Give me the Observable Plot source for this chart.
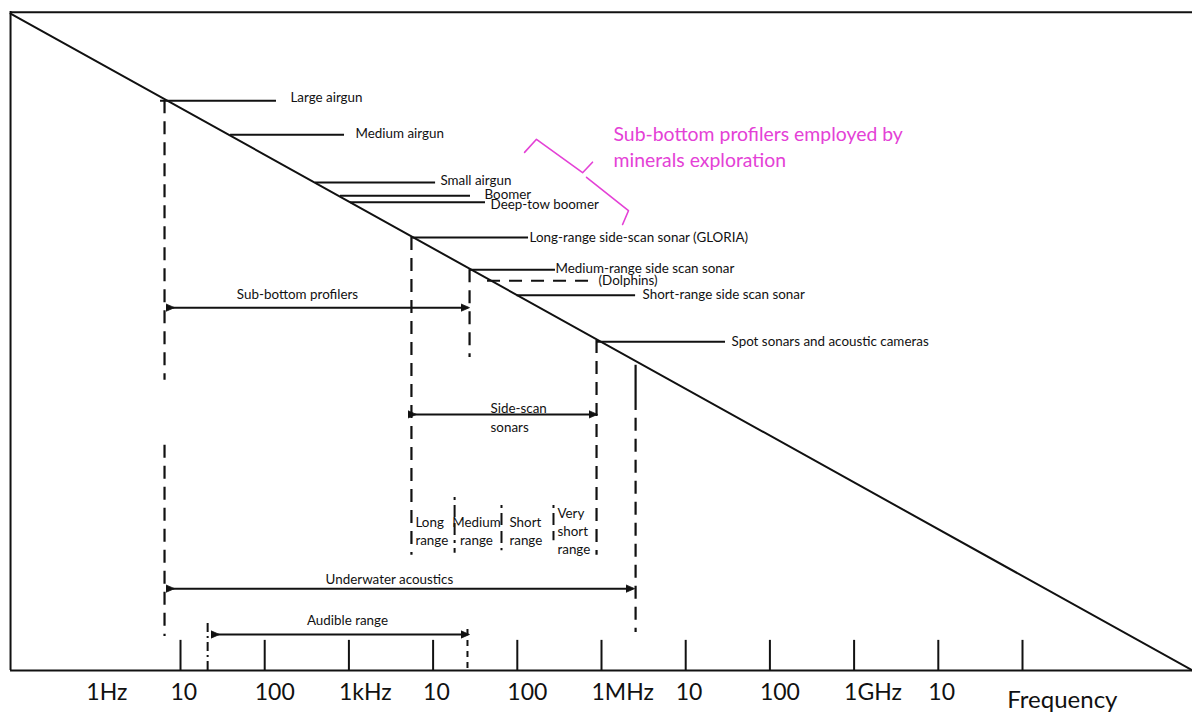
<!DOCTYPE html>
<html><head><meta charset="utf-8">
<script src="https://cdn.jsdelivr.net/npm/d3@7"></script>
<script src="https://cdn.jsdelivr.net/npm/@observablehq/plot@0.6"></script>
<style>body{margin:0;background:#fff;} #chart svg{display:block}</style>
</head><body><div id="chart"></div>
<script>
// ---- frequency axis (Hz, log) ----
const tickFreqs = [10, 100, 1e3, 1e4, 1e5, 1e6, 1e7, 1e8, 1e9, 1e10, 1e11];
const labelFreqs = [1, 10, 100, 1e3, 1e4, 1e5, 1e6, 1e7, 1e8, 1e9, 1e10];
const tickLabels = ["1Hz", "10", "100", "1kHz", "10", "100", "1MHz", "10", "100", "1GHz", "10"];
const axisTitle = "Frequency";
const axisTitleFreq = 6.6e10;
const freqMin = 0.0728, freqMax = 1.0447e13;

// ---- diagonal (resolution / penetration trade-off), arbitrary level 0-100 ----
const diagFreq = [0.0958, 1.0447e13];
const diagLevel = [100.3, 0];

// ---- systems: leader lines from the diagonal ----
const systemNames = ["Large airgun", "Medium airgun", "Small airgun", "Boomer", "Deep-tow boomer",
  "Long-range side-scan sonar (GLORIA)", "Medium-range side scan sonar", "Short-range side scan sonar",
  "Spot sonars and acoustic cameras"];
const systemFrom = [5.79, 39.3, 401, 794, 1045, 5530, 27100, 99300, 873000];
const systemTo = [138, 887, 10700, 27800, 41900, 136000, 284000, 2540000, 29700000];
const systemLevel = [87.0, 81.8, 74.5, 72.5, 71.5, 66.1, 61.2, 57.3, 50.2];
const systemLabelFreq = [202, 1197, 12200, 40800, 48100, 140000, 284000, 3070000, 35000000];
const systemLabelLevel = [87.5, 82.0, 74.8, 72.7, 71.1, 66.1, 61.4, 57.3, 50.2];

const dolphinName = "(Dolphins)";
const dolphinFrom = 44300, dolphinTo = 740000, dolphinLevel = 59.5;
const dolphinLabelFreq = 921000, dolphinLabelLevel = 59.5;

// ---- vertical boundary lines ----
const dashFreq = [6.46, 6.46, 5530, 27100, 873000, 2540000];
const dashTop = [87.0, 34.4, 66.1, 61.2, 50.4, 38.5];
const dashBottom = [44.3, 5.2, 17.6, 47.8, 17.6, 5.8];
const solidFreq = [2540000];
const solidTop = [46.6];
const solidBottom = [39.7];
const audibleLowFreq = 21, audibleLowTop = 7.6;
const audibleHighFreq = 25600, audibleHighTop = 6.4;

// ---- ranges (double arrows) ----
const rangeNames = ["Sub-bottom profilers", "Side-scan\nsonars", "Underwater acoustics", "Audible range"];
const rangeFrom = [8.04, 6010, 8.04, 27.5];
const rangeTo = [25600, 849000, 2340000, 25600];
const rangeLevel = [55.4, 39.1, 12.5, 5.5];
const rangeLabelFreq = [245, 48100, 3030, 962];
const rangeLabelLevel = [57.7, 38.8, 14.2, 7.9];
const rangeLabelAnchor = ["middle", "start", "middle", "middle"];

// ---- side-scan sub-ranges ----
const subNames = ["Long\nrange", "Medium\nrange", "Short\nrange", "Very\nshort\nrange"];
const subLabelFreq = [6170, 32700, 80700, 300000];
const subAnchor = ["start", "middle", "start", "start"];
const subLevel = 21.4;
const sepFreq = [18000, 64900, 269000];
const sepTop = [26.4, 25.2, 25.2];
const sepBottom = [17.9, 18.3, 19.8];

// ---- magenta note ----
const noteText = "Sub-bottom profilers employed by\nminerals exploration";
const noteFreq = 1390000, noteLevel = 80.1;
const braceFreq = [122000, 169000, 596000, 782000, 664000, 2090000, 1780000];
const braceLevel = [79.1, 81.1, 76.0, 77.6, 75.3, 70.2, 68.1];
const braceSeg = [0, 0, 0, 0, 1, 1, 1];

// ---- build tables ----
const ink = "#111";
const magenta = "#e441d6";
const font = "Lato, 'Open Sans', sans-serif";
const fs = 13.4;
const ticks = tickFreqs.map(f => ({f}));
const tlabels = labelFreqs.map((f, i) => ({f, t: tickLabels[i]}));
const diag = diagFreq.map((f, i) => ({f, y: diagLevel[i]}));
const systems = systemNames.map((n, i) => ({n, a: systemFrom[i], b: systemTo[i], y: systemLevel[i], lf: systemLabelFreq[i], ly: systemLabelLevel[i]}));
const dashes = dashFreq.map((f, i) => ({f, a: dashTop[i], b: dashBottom[i]}));
const solids = solidFreq.map((f, i) => ({f, a: solidTop[i], b: solidBottom[i]}));
const ranges = rangeNames.map((n, i) => ({n, a: rangeFrom[i], b: rangeTo[i], y: rangeLevel[i], lf: rangeLabelFreq[i], ly: rangeLabelLevel[i], anc: rangeLabelAnchor[i]}));
const subs = subNames.map((n, i) => ({n, f: subLabelFreq[i], anc: subAnchor[i]}));
const seps = sepFreq.map((f, i) => ({f, a: sepTop[i], b: sepBottom[i]}));
const brace = braceFreq.map((f, i) => ({f, y: braceLevel[i], s: braceSeg[i]}));

const chart = Plot.plot({
  width: 1192, height: 713,
  marginLeft: 0, marginRight: 0, marginTop: 15, marginBottom: 43,
  x: {type: "log", domain: [freqMin, freqMax], axis: null},
  y: {domain: [0, 100], axis: null},
  style: {fontFamily: font, background: "#fff", color: ink},
  marks: [
    // frame
    Plot.ruleX([diagFreq[0]], {x: d => d, y1: 0, y2: 100.6, stroke: ink, strokeWidth: 2}),
    Plot.ruleY([100.5], {y: d => d, x1: diagFreq[0], x2: freqMax, stroke: ink, strokeWidth: 2}),
    Plot.ruleY([0], {y: d => d, x1: diagFreq[0], x2: freqMax, stroke: ink, strokeWidth: 2}),
    // axis ticks and labels
    Plot.ruleX(ticks, {x: "f", y1: 0, y2: 4.6, stroke: ink, strokeWidth: 2}),
    Plot.text(tlabels, {x: "f", y: -3.36, text: "t", textAnchor: "start", dx: -10, fontSize: 23, fill: ink}),
    Plot.text([axisTitle], {x: axisTitleFreq, y: -4.58, text: d => d, textAnchor: "start", fontSize: 24, fill: ink}),
    // diagonal
    Plot.line(diag, {x: "f", y: "y", stroke: ink, strokeWidth: 2}),
    // leaders
    Plot.ruleY(systems, {y: "y", x1: "a", x2: "b", stroke: ink, strokeWidth: 2}),
    Plot.text(systems, {x: "lf", y: "ly", text: "n", textAnchor: "start", fontSize: fs, fill: ink}),
    Plot.ruleY([dolphinLevel], {y: d => d, x1: dolphinFrom, x2: dolphinTo, stroke: ink, strokeWidth: 2, strokeDasharray: "13,9"}),
    Plot.text([dolphinName], {x: dolphinLabelFreq, y: dolphinLabelLevel, text: d => d, textAnchor: "start", fontSize: fs, fill: ink}),
    // vertical boundaries
    Plot.ruleX(dashes, {x: "f", y1: "a", y2: "b", stroke: ink, strokeWidth: 2.2, strokeDasharray: "13,8"}),
    Plot.ruleX(solids, {x: "f", y1: "a", y2: "b", stroke: ink, strokeWidth: 2.2}),
    Plot.ruleX([audibleLowFreq], {x: d => d, y1: 0, y2: audibleLowTop, stroke: ink, strokeWidth: 2, strokeDasharray: "9,4,2,4"}),
    Plot.ruleX([audibleHighFreq], {x: d => d, y1: 0.3, y2: audibleHighTop, stroke: ink, strokeWidth: 2, strokeDasharray: "6,5"}),
    Plot.ruleX(seps, {x: "f", y1: "a", y2: "b", stroke: ink, strokeWidth: 2, strokeDasharray: "3,5,12,6,12,5"}),
    // double arrows
    Plot.link(ranges, {x1: "a", x2: "b", y1: "y", y2: "y", stroke: ink, strokeWidth: 2, markerStart: "arrow", markerEnd: "arrow"}),
    Plot.text(ranges, {x: "lf", y: "ly", text: "n", textAnchor: "middle", fontSize: fs, lineHeight: 1.4, fill: ink, filter: d => d.anc === "middle"}),
    Plot.text(ranges, {x: "lf", y: "ly", text: "n", textAnchor: "start", fontSize: fs, lineHeight: 1.4, fill: ink, filter: d => d.anc === "start"}),
    // sub-range labels
    Plot.text(subs, {x: "f", y: subLevel, text: "n", textAnchor: "start", fontSize: fs, lineHeight: 1.35, fill: ink, filter: d => d.anc === "start"}),
    Plot.text(subs, {x: "f", y: subLevel, text: "n", textAnchor: "middle", fontSize: fs, lineHeight: 1.35, fill: ink, filter: d => d.anc === "middle"}),
    // magenta note and brace
    Plot.line(brace, {x: "f", y: "y", z: "s", stroke: magenta, strokeWidth: 1.6}),
    Plot.text([noteText], {x: noteFreq, y: noteLevel, text: d => d, textAnchor: "start", fontSize: 19.4, lineHeight: 1.3, fill: magenta})
  ]
});

// filled triangular arrowheads
d3.select(chart).selectAll("marker path").each(function() {
  const p = d3.select(this);
  if ((p.attr("d") || "").startsWith("M-1.5")) {
    p.attr("d", "M-5,-2.8L1.5,0L-5,2.8Z").attr("fill", ink).attr("stroke-width", 0.6);
  }
});
document.getElementById("chart").appendChild(chart);
</script>
</body></html>
